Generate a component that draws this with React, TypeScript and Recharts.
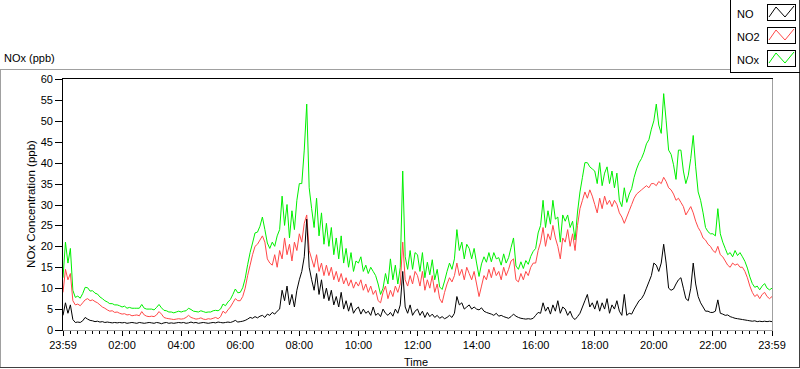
import React from 'react';
import { LineChart, Line, XAxis, YAxis } from 'recharts';

// NO, NO2 and NOx concentrations (ppb), one reading every 5 minutes from 23:59 to 23:59
const noValues = [
  3.5, 6.5, 4, 6, 2.5, 1.8, 1.9, 1.8, 2.2, 3, 2.6, 2.3,
  2.2, 2.0, 2.1, 1.9, 2.0, 1.8, 1.9, 1.8, 1.7, 1.8, 1.7, 1.8,
  1.7, 1.8, 1.6, 1.7, 1.8, 1.7, 1.6, 1.8, 1.7, 1.6, 1.7, 1.8,
  1.7, 1.6, 1.8, 1.7, 1.5, 1.7, 1.8, 1.6, 1.7, 1.6, 1.7, 1.8,
  1.7, 1.8, 1.6, 1.7, 1.9, 1.7, 1.8, 1.6, 1.7, 1.8, 1.7, 1.6,
  1.7, 1.8, 1.7, 1.9, 1.8, 1.7, 1.8, 1.9, 1.8, 2.0, 2.3, 1.9,
  2.0, 2.1, 2.3, 2.6, 3.0, 2.8, 3.2, 2.9, 3.3, 3.5, 3.0, 3.8,
  3.5, 4.2, 3.8, 4.5, 5.0, 9.5, 7.0, 10.5, 6.0, 8.5, 5.5, 9.5,
  12, 14, 17.5, 26.5, 15, 12, 9.5, 13.5, 8.5, 12, 7.5, 10,
  7, 9.5, 6, 8, 5.5, 9, 5, 7, 4.5, 6.5, 4, 5,
  5.5, 3.8, 5, 4, 4.5, 3.5, 5.5, 3.5, 4, 3.2, 5, 4,
  3.5, 4.2, 3.3, 5, 4, 6, 14, 5.5, 4, 6, 3.5, 4.5,
  5, 3.5, 4.5, 3, 4.2, 3.2, 3.8, 3, 3.5, 2.8, 3.2, 2.7,
  3, 3.5, 3, 4, 8, 6, 6.5, 5, 5.5, 6, 5, 5.5,
  5, 4.8, 5.3, 4.5, 4.2, 4, 3.8, 3.5, 4, 3.3, 3.5, 3.2,
  3, 2.8, 3.2, 3.8, 3.3, 3, 2.8, 2.7, 2.6, 2.7, 2.6, 2.8,
  3.5, 4.2, 4, 6.5, 4.5, 5.5, 3.8, 6, 4.5, 7, 4, 5.5,
  5, 3.5, 4.5, 3, 2.5, 3.2, 4, 5.5, 7, 8.5, 5.5, 6.5,
  5, 7, 4.5, 6.5, 5, 7.5, 4, 6, 5, 7, 4.5, 3.5,
  8.5, 3.5, 4, 3.8, 5, 6, 7, 7.5, 8.5, 10, 11.5, 13,
  16, 15.5, 14, 16, 20.5, 16, 10, 9.5, 9.8, 11, 12, 12.5,
  10, 7.5, 7, 10, 16, 11, 8, 6.5, 5.5, 4.5, 4.5, 4.2,
  4.2, 4.5, 7.2, 4, 3.8, 3.5, 3.6, 3.2, 3, 2.8, 2.7, 2.6,
  2.5, 2.4, 2.3, 2.2, 2.1, 2.2, 2.0, 2.1, 2.0, 2.1, 2.0, 2.1, 2.0,
];

const no2Values = [
  9, 14.5, 12, 13.5, 7, 6, 6.2, 5.8, 6.5, 7.2, 7.5, 7,
  7.2, 6.8, 6.5, 6, 5.5, 5.2, 4.8, 4.5, 4.6, 4.2, 4.3, 4.0,
  3.8, 3.9, 3.6, 3.7, 3.4, 3.5, 3.6, 3.4, 4.4, 3.6, 3.3, 3.2,
  3.3, 3.2, 3.6, 4.4, 3.8, 3.0, 2.8, 2.7, 2.6, 2.5, 2.6, 2.7,
  2.6, 2.7, 3.0, 3.5, 3.0, 2.8, 2.6, 2.7, 2.9, 2.6, 2.5, 2.7,
  2.6, 2.8, 3.0, 2.7, 3.2, 4.5, 4.0, 4.8, 5.5, 6.5, 7.5, 7.0,
  7, 8, 10, 13, 15.5, 18, 20, 20.5, 21.5, 22.5, 21, 17,
  16, 15.5, 18, 15, 19, 17, 22, 18, 20.5, 16.5, 21, 19,
  23, 21, 25.5, 27.5, 19, 17, 15, 18, 14, 16, 13, 15.5,
  13, 15, 12, 14, 11.5, 13.5, 11, 12.5, 10.5, 12, 10, 11.5,
  10.5, 12, 9.5, 11, 9, 10.5, 8.5, 9.5, 7, 6.5, 9, 10.5,
  7.5, 9.5, 8, 10.5, 9, 11, 21, 12, 10.5, 13, 11, 14,
  13, 10.5, 14, 9.5, 12, 10, 13, 9, 11, 7.5, 6.5, 9,
  11, 12.5, 11.5, 13, 16, 13, 14.5, 12, 15, 13.5, 12, 14,
  11, 8, 10.5, 13, 12, 14.5, 12.5, 15, 13, 14, 12, 15,
  13, 14.5, 16.5, 17, 12, 11.5, 13.5, 12, 14, 13, 15, 16,
  16, 19, 21, 24.5, 20, 23, 21.5, 25, 22, 20, 17, 22,
  21, 24, 20, 23, 19, 25, 29, 31, 33, 31.5, 33.5, 32,
  30, 28, 31.5, 29, 32, 30, 31, 29.5, 31, 30, 28, 27,
  25.5, 27, 28.5, 30, 31.5, 32.5, 33, 33.5, 34, 34.5, 34, 35,
  35, 34.5, 35.5, 35, 36.5, 35.5, 34, 33.5, 32.5, 31, 31.5, 30.5,
  29.5, 27.5, 28.5, 29.5, 28, 26, 24.5, 23.5, 22, 21.5, 20.5, 20,
  19, 18.5, 20, 18, 17.5, 16.5, 15.5, 15, 16, 15.5, 15.8, 15,
  15, 14, 12.5, 10.5, 9, 8, 8.5, 7.5, 8.5, 9, 8, 7.5, 8,
];

const noxValues = [
  12.5, 21, 16, 19.5, 9.5, 7.8, 8.1, 7.6, 8.7, 10.2, 10.1, 9.3,
  9.4, 8.8, 8.6, 7.9, 7.5, 7, 6.7, 6.3, 6.3, 6, 6, 5.8,
  5.5, 5.7, 5.2, 5.4, 5.2, 5.2, 5.2, 5.2, 6.1, 5.2, 5.0, 5.0,
  5.0, 4.8, 5.4, 6.1, 5.3, 4.7, 4.6, 4.3, 4.3, 4.1, 4.3, 4.5,
  4.3, 4.5, 4.6, 5.2, 4.9, 4.5, 4.4, 4.3, 4.6, 4.4, 4.2, 4.3,
  4.3, 4.6, 4.7, 4.6, 5.0, 6.2, 5.8, 6.7, 7.3, 8.5, 9.8, 8.9,
  9, 10.1, 12.3, 15.6, 18.5, 20.8, 23.2, 23.4, 24.8, 27, 24, 20.8,
  19.5, 21, 20, 22.5, 24, 32, 25, 30, 22, 28.5, 24, 31,
  35, 35, 43, 54, 34, 29, 24.5, 31.5, 22.5, 28, 20.5, 25.5,
  20, 24.5, 18, 22, 17, 22.5, 16, 19.5, 15, 18.5, 14, 16.5,
  16, 17.5, 14, 15.5, 13.5, 15, 14, 13, 11, 8.5, 10, 13.5,
  11, 17, 12, 15.5, 11, 15, 38, 17.5, 14.5, 19, 14.5, 18.5,
  18, 14, 18.5, 12.5, 16.2, 13.2, 16.8, 12, 14.5, 10.3, 9.7, 11.7,
  14, 16, 14.5, 17, 24, 19, 21, 17, 20.5, 19.5, 17, 19.5,
  16, 12.8, 15.8, 17.5, 16.2, 18.5, 16.3, 18.5, 17, 17.3, 15.5, 18.2,
  16, 17.3, 19.7, 22, 15.3, 14.5, 16.3, 14.7, 16.6, 15.7, 17.6, 18.8,
  19.5, 23.2, 25, 31, 24.5, 28.5, 25.3, 31, 26.5, 27, 21, 27.5,
  26, 27.5, 24.5, 26, 21.5, 28.2, 33, 36.5, 40, 40, 39, 38.5,
  38, 35, 40, 34.5, 37.5, 39, 35, 38, 34, 37.5, 31, 29.5,
  34, 30.5, 32.5, 33.8, 36.5, 38.5, 40, 41, 42.5, 44.5, 45.5, 48,
  50, 54, 49, 47, 56.5, 50, 43, 42, 39.5, 36, 43, 43,
  38, 35, 37, 41, 46.5, 39, 33, 31, 28, 24.5, 23.5, 23,
  23, 22.5, 29, 23, 21, 19.5, 18, 18.5, 17.5, 19, 17.8, 18.5,
  17.5, 16.4, 14.8, 12.7, 11.1, 10.2, 10.5, 9.6, 10.5, 11.1, 10, 9.6, 10,
];

const sampleStepMinutes = 5;
const xMajorLabels = ['23:59', '02:00', '04:00', '06:00', '08:00', '10:00', '12:00', '14:00', '16:00', '18:00', '20:00', '22:00', '23:59'];
const yTickValues = [0, 5, 10, 15, 20, 25, 30, 35, 40, 45, 50, 55, 60];
const seriesNames = ['NO', 'NO2', 'NOx'];
const seriesColors = ['#000000', '#ff4848', '#00f000'];

const data = noValues.map((v, i) => ({
  t: i * sampleStepMinutes,
  NO: v,
  NO2: no2Values[i],
  NOx: noxValues[i],
}));
const xTicks = Array.from({ length: 97 }, (_, i) => i * 15);

const FONT = '"Liberation Sans", Arial, sans-serif';
const W = 800;
const H = 369;

function XTick(props: any) {
  const { x, y, payload } = props;
  const v = payload.value as number;
  const major = v % 120 === 0;
  const px = Math.floor(x) + 0.5;
  return (
    <g>
      <line x1={px} x2={px} y1={y + 1} y2={y + (major ? 6 : 4)} stroke="#000" strokeWidth={1} />
      {major && (
        <text x={x} y={y + 18.5} textAnchor="middle" fontSize={11} fontFamily={FONT} fill="#000">
          {xMajorLabels[v / 120]}
        </text>
      )}
    </g>
  );
}

function YTick(props: any) {
  const { x, y, payload } = props;
  const py = Math.round(y) + 0.5;
  return (
    <g>
      <line x1={x - 8} x2={x - 1} y1={py} y2={py} stroke="#000" strokeWidth={1} />
      <text x={x - 10} y={y + 4} textAnchor="end" fontSize={11} fontFamily={FONT} fill="#000">
        {payload.value}
      </text>
    </g>
  );
}

function Swatch({ x, y, color }: { x: number; y: number; color: string }) {
  return (
    <g>
      <rect x={x + 0.5} y={y + 0.5} width={28} height={16} fill="#fff" stroke="#000" />
      <polyline
        points={`${x + 2},${y + 13} ${x + 9},${y + 3} ${x + 18},${y + 13} ${x + 27},${y + 2}`}
        fill="none"
        stroke={color}
        strokeWidth={1}
      />
    </g>
  );
}

export default function App() {
  return (
    <div style={{ position: 'absolute', left: 0, top: 0, width: W, height: H, background: '#fff' }}>
      <LineChart width={W} height={H} data={data} margin={{ top: 79, right: 28, bottom: 0, left: 0 }}>
        <XAxis
          type="number"
          dataKey="t"
          domain={[0, 1440]}
          ticks={xTicks}
          interval={0}
          height={39}
          axisLine={false}
          tickLine={false}
          tickSize={0}
          tickMargin={0}
          tick={<XTick />}
        />
        <YAxis
          type="number"
          domain={[0, 60]}
          ticks={yTickValues}
          interval={0}
          width={63}
          axisLine={false}
          tickLine={false}
          tickSize={0}
          tickMargin={0}
          tick={<YTick />}
        />
        <Line type="linear" dataKey="NOx" stroke={seriesColors[2]} strokeWidth={1} dot={false} isAnimationActive={false} />
        <Line type="linear" dataKey="NO2" stroke={seriesColors[1]} strokeWidth={1} dot={false} isAnimationActive={false} />
        <Line type="linear" dataKey="NO" stroke={seriesColors[0]} strokeWidth={1} dot={false} isAnimationActive={false} />
      </LineChart>
      <svg width={W} height={H} style={{ position: 'absolute', left: 0, top: 0, pointerEvents: 'none' }}>
        {/* outer frame */}
        <line x1={0} x2={730} y1={69.5} y2={69.5} stroke="#a0a0a0" />
        <line x1={0.5} x2={0.5} y1={69} y2={368} stroke="#a0a0a0" />
        <line x1={0} x2={800} y1={367.5} y2={367.5} stroke="#404040" />
        <line x1={799.5} x2={799.5} y1={0} y2={368} stroke="#404040" />
        {/* legend box */}
        <line x1={730.5} x2={730.5} y1={0} y2={73} stroke="#000" />
        <line x1={730} x2={800} y1={72.5} y2={72.5} stroke="#000" />
        {seriesNames.map((name, i) => (
          <g key={name}>
            <text x={737} y={17.5 + i * 23} fontSize={11} fontFamily={FONT} fill="#000">{name}</text>
            <Swatch x={767} y={4 + i * 23} color={seriesColors[i]} />
          </g>
        ))}
        {/* plot frame */}
        <line x1={62} x2={773} y1={78.5} y2={78.5} stroke="#000" />
        <line x1={62.5} x2={62.5} y1={78} y2={331} stroke="#000" />
        <line x1={772.5} x2={772.5} y1={79} y2={331} stroke="#a0a0a0" />
        <line x1={63} x2={773} y1={330.5} y2={330.5} stroke="#a0a0a0" />
        {/* labels */}
        <text x={4} y={62} fontSize={11} fontFamily={FONT} fill="#000">NOx (ppb)</text>
        <text x={35} y={204} fontSize={11.5} fontFamily={FONT} fill="#000" textAnchor="middle" transform="rotate(-90, 35, 204)">
          NOx Concentration (ppb)
        </text>
        <text x={416} y={366} fontSize={11} fontFamily={FONT} fill="#000" textAnchor="middle">Time</text>
      </svg>
    </div>
  );
}
